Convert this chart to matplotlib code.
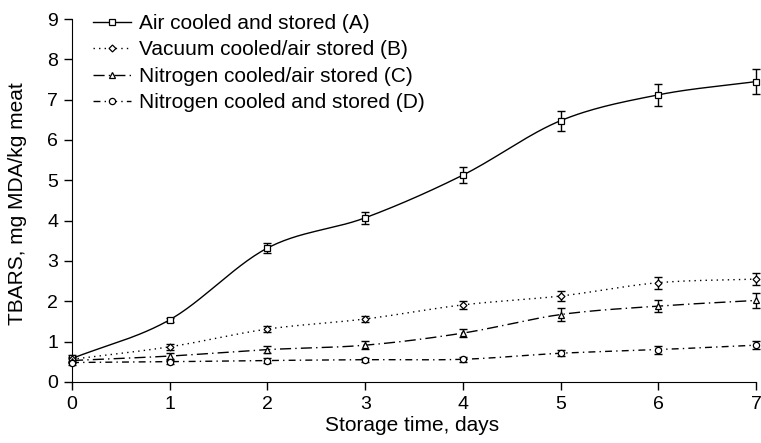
import numpy as np
import matplotlib
matplotlib.use("Agg")
import matplotlib.pyplot as plt

plt.rcParams['font.family'] = ['Liberation Sans', 'DejaVu Sans']

# TBARS during storage, mean and error per treatment
days = [0, 1, 2, 3, 4, 5, 6, 7]
air_air = [0.58, 1.54, 3.32, 4.07, 5.13, 6.48, 7.12, 7.45]
air_air_err = [0.08, 0.05, 0.12, 0.15, 0.2, 0.25, 0.28, 0.3]
vac_air = [0.56, 0.87, 1.31, 1.56, 1.91, 2.13, 2.46, 2.55]
vac_air_err = [0.06, 0.07, 0.08, 0.08, 0.1, 0.12, 0.15, 0.15]
n2_air = [0.53, 0.64, 0.80, 0.91, 1.21, 1.67, 1.88, 2.02]
n2_air_err = [0.05, 0.08, 0.08, 0.1, 0.1, 0.15, 0.15, 0.18]
n2_n2 = [0.48, 0.50, 0.53, 0.55, 0.56, 0.71, 0.80, 0.91]
n2_n2_err = [0.05, 0.05, 0.05, 0.05, 0.06, 0.08, 0.1, 0.1]

labels = ['Air cooled and stored (A)', 'Vacuum cooled/air stored (B)',
          'Nitrogen cooled/air stored (C)', 'Nitrogen cooled and stored (D)']


def smooth(x, y, n=30):
    """Catmull-Rom curve through the points."""
    x = np.asarray(x, float)
    y = np.asarray(y, float)
    px = np.concatenate([[2 * x[0] - x[1]], x, [2 * x[-1] - x[-2]]])
    py = np.concatenate([[2 * y[0] - y[1]], y, [2 * y[-1] - y[-2]]])
    t = np.linspace(0, 1, n)[:-1]
    xs, ys = [], []
    for i in range(1, len(px) - 2):
        for p, out in ((px, xs), (py, ys)):
            p0, p1, p2, p3 = p[i - 1], p[i], p[i + 1], p[i + 2]
            out.extend(0.5 * ((2 * p1) + (-p0 + p2) * t
                              + (2 * p0 - 5 * p1 + 4 * p2 - p3) * t ** 2
                              + (-p0 + 3 * p1 - 3 * p2 + p3) * t ** 3))
    xs.append(x[-1])
    ys.append(y[-1])
    return np.array(xs), np.array(ys)


fig = plt.figure(figsize=(7.61, 4.43), dpi=100)
ax = fig.add_axes([0.0946, 0.138, 0.899, 0.819])

series = [
    (air_air, air_air_err, 's', 5, dict(linestyle='-')),
    (vac_air, vac_air_err, 'D', 3.5, dict(linestyle=(0, (1, 3)))),
    (n2_air, n2_air_err, '^', 5, dict(linestyle=(0, (8, 3, 1, 3)))),
    (n2_n2, n2_n2_err, 'o', 4.5, dict(linestyle=(0, (5, 3, 1, 3)))),
]

handles = []
for (vals, err, mk, ms, ls), lab in zip(series, labels):
    sx, sy = smooth(days, vals)
    ax.plot(sx, sy, color='black', lw=1, clip_on=False, **ls)
    ax.errorbar(days, vals, yerr=err, fmt='none', ecolor='black',
                elinewidth=1, capsize=3, capthick=1, clip_on=False)
    ax.plot(days, vals, linestyle='none', marker=mk, ms=ms, mfc='white',
            mec='black', mew=0.9, clip_on=False, zorder=3)
    h, = ax.plot([], [], color='black', lw=1, marker=mk, ms=ms, mfc='white',
                 mec='black', mew=0.9, **ls)
    handles.append(h)

ax.set_xlim(0, 7)
ax.set_ylim(0, 9)
ax.set_xticks(range(8))
ax.set_yticks(range(10))
ax.spines['top'].set_visible(False)
ax.spines['right'].set_visible(False)
ax.tick_params(direction='out', length=6, width=1, labelsize=14, pad=4)
ax.set_xlabel('Storage time, days', fontsize=15)
ax.set_ylabel('TBARS, mg MDA/kg meat', fontsize=15)
ax.xaxis.set_label_coords(0.497, -0.094)
ax.yaxis.set_label_coords(-0.066, 0.49)

ax.legend(handles, labels, loc='upper left', bbox_to_anchor=(0.031, 1.014),
          frameon=False, fontsize=15, handlelength=1.8, handletextpad=0.4,
          labelspacing=0.36, borderaxespad=0, borderpad=0)

fig.savefig('out.png', dpi=100)
